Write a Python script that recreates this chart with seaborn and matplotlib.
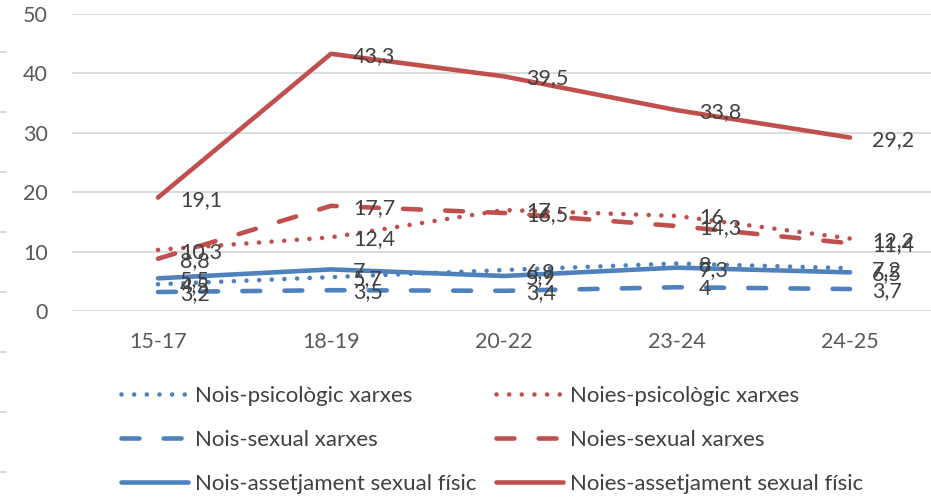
import matplotlib
matplotlib.use("Agg")
import matplotlib.pyplot as plt
import seaborn as sns
from matplotlib.lines import Line2D

# values
ages = ["15-17", "18-19", "20-22", "23-24", "24-25"]
nois_psicologic = [4.5, 5.7, 6.9, 8, 7.2]
noies_psicologic = [10.3, 12.4, 17, 16, 12.2]
nois_sexual = [3.2, 3.5, 3.4, 4, 3.7]
noies_sexual = [8.8, 17.7, 16.5, 14.3, 11.4]
nois_fisic = [5.5, 7, 5.9, 7.3, 6.5]
noies_fisic = [19.1, 43.3, 39.5, 33.8, 29.2]

BLUE = "#4f81bd"
RED = "#c0504d"
DOT = (0, (0.01, 2.75))
DASH = (0, (3.9, 5.3))

series = [
    ("Nois-psicològic xarxes", nois_psicologic, BLUE, DOT),
    ("Noies-psicològic xarxes", noies_psicologic, RED, DOT),
    ("Nois-sexual xarxes", nois_sexual, BLUE, DASH),
    ("Noies-sexual xarxes", noies_sexual, RED, DASH),
    ("Nois-assetjament sexual físic", nois_fisic, BLUE, "-"),
    ("Noies-assetjament sexual físic", noies_fisic, RED, "-"),
]

sns.set_style("white")
plt.rcParams["font.family"] = ["Lato", "DejaVu Sans"]

W, H = 931, 498
fig = plt.figure(figsize=(W / 100, H / 100), dpi=100)
ax = fig.add_axes([71.5 / W, 1 - 311 / H, 865 / W, 297 / H])

LW = 3.3


def fmt(v):
    return str(int(v)) if float(v).is_integer() else f"{v:.1f}".replace(".", ",")


handles = {}
for name, vals, color, ls in series:
    sns.lineplot(x=ages, y=vals, ax=ax, color=color, lw=LW, linestyle=ls,
                 dash_capstyle="round", solid_capstyle="round", sort=False,
                 clip_on=False)
    handles[name] = Line2D([], [], color=color, lw=LW, linestyle=ls,
                           dash_capstyle="round", solid_capstyle="round")

for name, vals, color, ls in series:
    for i, v in enumerate(vals):
        ax.annotate(fmt(v), (i, v), xytext=(16, -1.5), textcoords="offset points",
                    ha="left", va="center", fontsize=15.5, color="#404040",
                    zorder=10, annotation_clip=False)

ax.set_xlim(-0.5, 4.5)
ax.set_ylim(0, 50)
ax.set_yticks(range(0, 51, 10))
ax.set_xlabel("")
ax.set_ylabel("")
for s in ax.spines.values():
    s.set_visible(False)
ax.grid(axis="y", color="#d9d9d9", lw=1.3)
ax.set_axisbelow(True)
ax.tick_params(axis="y", length=0, pad=17, labelsize=15.5, labelcolor="#595959")
ax.tick_params(axis="x", length=0, pad=15, labelsize=15.5, labelcolor="#595959")

order = ["Nois-psicològic xarxes", "Nois-sexual xarxes", "Nois-assetjament sexual físic",
         "Noies-psicològic xarxes", "Noies-sexual xarxes", "Noies-assetjament sexual físic"]
fig.legend([handles[n] for n in order], order, loc="upper left",
           bbox_to_anchor=(121 / W, 1 - 386 / H), ncol=2, frameon=False,
           fontsize=16, labelcolor="#404040", handlelength=3.0, handletextpad=0.35,
           columnspacing=0.85, labelspacing=1.07, borderaxespad=0, borderpad=0)

# faint tick marks on the left edge of the cropped image
for y in [52, 112, 172, 232, 292, 352, 412, 472]:
    fig.add_artist(Line2D([0, 6 / W], [1 - y / H, 1 - y / H], color="#d9d9d9", lw=1.3))

fig.savefig("out.png", dpi=100)
